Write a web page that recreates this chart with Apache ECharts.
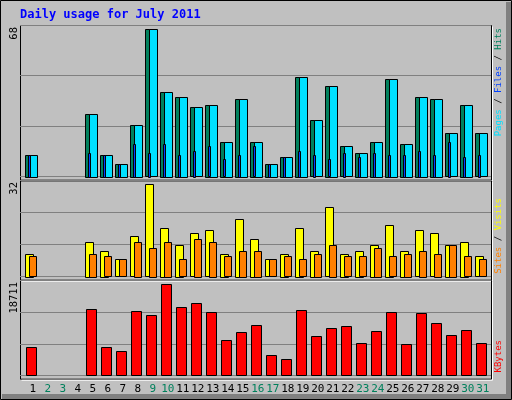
<!DOCTYPE html>
<html><head><meta charset="utf-8">
<script src="https://cdn.jsdelivr.net/npm/echarts@6/dist/echarts.min.js"></script>
<style>html,body{margin:0;padding:0;background:#c0c0c0}#c{width:512px;height:400px}</style>
</head><body><div id="c"></div>
<script>
const days = [1,2,3,4,5,6,7,8,9,10,11,12,13,14,15,16,17,18,19,20,21,22,23,24,25,26,27,28,29,30,31];
const weekend = [2,3,9,10,16,17,23,24,30,31];
const hits  = [10,0,0,0,29,10,6,24,68,39,37,32,33,16,36,16,6,9,46,26,42,14,11,16,45,15,37,36,20,33,20];
const files = [10,0,0,0,29,10,6,24,68,39,37,32,33,16,36,16,6,9,46,26,42,14,11,16,45,15,37,36,20,33,20];
const pages = [10,0,0,0,11,10,6,15,11,15,10,12,14,8,10,14,6,9,12,10,8,11,9,11,10,10,12,10,16,9,10];
const visits= [8,0,0,0,12,9,6,14,32,17,11,15,16,8,20,13,6,8,17,9,24,8,9,11,18,9,16,15,11,12,7];
const sites = [7,0,0,0,8,7,6,12,10,12,6,13,12,7,9,9,6,7,6,8,11,7,7,10,7,8,9,8,11,7,6];
const kbytes= [5805,0,0,0,13590,5805,4985,13180,12360,18711,14000,14820,12975,7239,8878,10312,4166,3346,13385,8058,9697,10107,6624,9083,12975,6419,12770,10722,8263,9287,6624];

const chart = echarts.init(document.getElementById('c'));
const XMIN = 0.647, XMAX = 32.047;
const grids = [
  {left:20, width:471, top:25, height:151.7},
  {left:20, width:471, top:180.5, height:96.2},
  {left:20, width:471, top:280, height:95.7}
];
const ymax = [70, 33.3, 19591];
function barSeries(gi, data, color, x0, x1, z){
  return {type:'custom', xAxisIndex:gi, yAxisIndex:gi, z:z,
    data: days.map((d,i)=>[d, data[i]]),
    renderItem:(params, api)=>{
      const v = api.value(1); if(!v) return null;
      const d = api.value(0);
      const a = api.coord([d+x0, v]), b = api.coord([d+x1, 0]);
      return {type:'rect', shape:{x:Math.round(a[0])+0.5, y:Math.round(a[1])+0.5, width:Math.round(b[0]-a[0]), height:Math.round(b[1]-a[1])},
        style:{fill:color, stroke:'#000', lineWidth:1}};
    }};
}
const series = [
  barSeries(0, hits, '#00805c', 0, 0.76, 1),
  barSeries(0, files, '#00e0ff', 0.25, 0.76, 2),
  barSeries(0, pages, '#0040ff', 0.17, 0.3, 3),
  barSeries(1, visits, '#ffff00', 0, 0.56, 1),
  barSeries(1, sites, '#ff8000', 0.27, 0.76, 2),
  barSeries(2, kbytes, '#ff0000', 0.07, 0.76, 1),
  {type:'custom', xAxisIndex:2, yAxisIndex:2, z:5,
    data: days.map(d=>[d,0]),
    renderItem:(params, api)=>{
      const d = api.value(0); const p = api.coord([d+0.5, 0]);
      return {type:'text', x:p[0], y:389, style:{text:String(d), align:'center', verticalAlign:'middle',
        fill: weekend.includes(d)?'#00805c':'#000', font:'11px "DejaVu Sans Mono"'}};
    }}
];
function frame(g){
  return [
    {type:'rect', shape:{x:g.left+0.5, y:g.top+0.5, width:g.width, height:g.height+3}, style:{fill:null, stroke:'#000', lineWidth:1}, z:0},
    {type:'polyline', shape:{points:[[g.left+1.5, g.top+g.height+4.5],[g.left+g.width+1.5, g.top+g.height+4.5],[g.left+g.width+1.5, g.top+1.5]]}, style:{stroke:'#fff', lineWidth:1, fill:null}, z:0}
  ];
}
function vtext(x, y, rich, text, size){
  return {type:'text', x:x, y:y, rotation:Math.PI/2, style:{text:text, rich:rich, align:'right', verticalAlign:'middle', font:size+'px "DejaVu Sans Mono"', fill:'#000'}, z:10};
}
const fnt = '9px "DejaVu Sans Mono"';
chart.setOption({
  animation:false,
  backgroundColor:'#c0c0c0',
  grid: grids.map(g=>Object.assign({show:false}, g)),
  xAxis: grids.map((g,i)=>({type:'value', gridIndex:i, min:XMIN, max:XMAX, show:false})),
  yAxis: grids.map((g,i)=>({type:'value', gridIndex:i, min:0, max:ymax[i], interval:ymax[i]/3,
    axisLine:{show:false}, axisTick:{show:false}, axisLabel:{show:false},
    splitLine:{show:true, lineStyle:{color:'#808080', width:1}}})),
  series: series,
  graphic: [
    {type:'rect', shape:{x:0.5,y:0.5,width:511,height:399}, style:{fill:null, stroke:'#000', lineWidth:1}},
    {type:'rect', shape:{x:506,y:2,width:5,height:397}, style:{fill:'#808080'}},
    {type:'rect', shape:{x:2,y:394,width:509,height:5}, style:{fill:'#808080'}},
    {type:'text', x:20, y:15, style:{text:'Daily usage for July 2011', font:'bold 12px "DejaVu Sans Mono"', fill:'#0000ff', verticalAlign:'middle'}},
    ...frame(grids[0]), ...frame(grids[1]), ...frame(grids[2]),
    vtext(14, 27, {}, '68', 10.5),
    vtext(14, 182, {}, '32', 10.5),
    vtext(14, 282, {}, '18711', 10.5),
    vtext(499, 28, {p:{fill:'#00e0ff',font:fnt}, f:{fill:'#0040ff',font:fnt}, h:{fill:'#00805c',font:fnt}, s:{fill:'#000',font:fnt}}, '{p|Pages}{s| / }{f|Files}{s| / }{h|Hits}', 9),
    vtext(499, 198, {a:{fill:'#ff8000',font:fnt}, b:{fill:'#ffff00',font:fnt}, s:{fill:'#000',font:fnt}}, '{a|Sites}{s| / }{b|Visits}', 9),
    vtext(499, 340, {k:{fill:'#ff0000',font:fnt}}, '{k|KBytes}', 9)
  ]
});
</script></body></html>
